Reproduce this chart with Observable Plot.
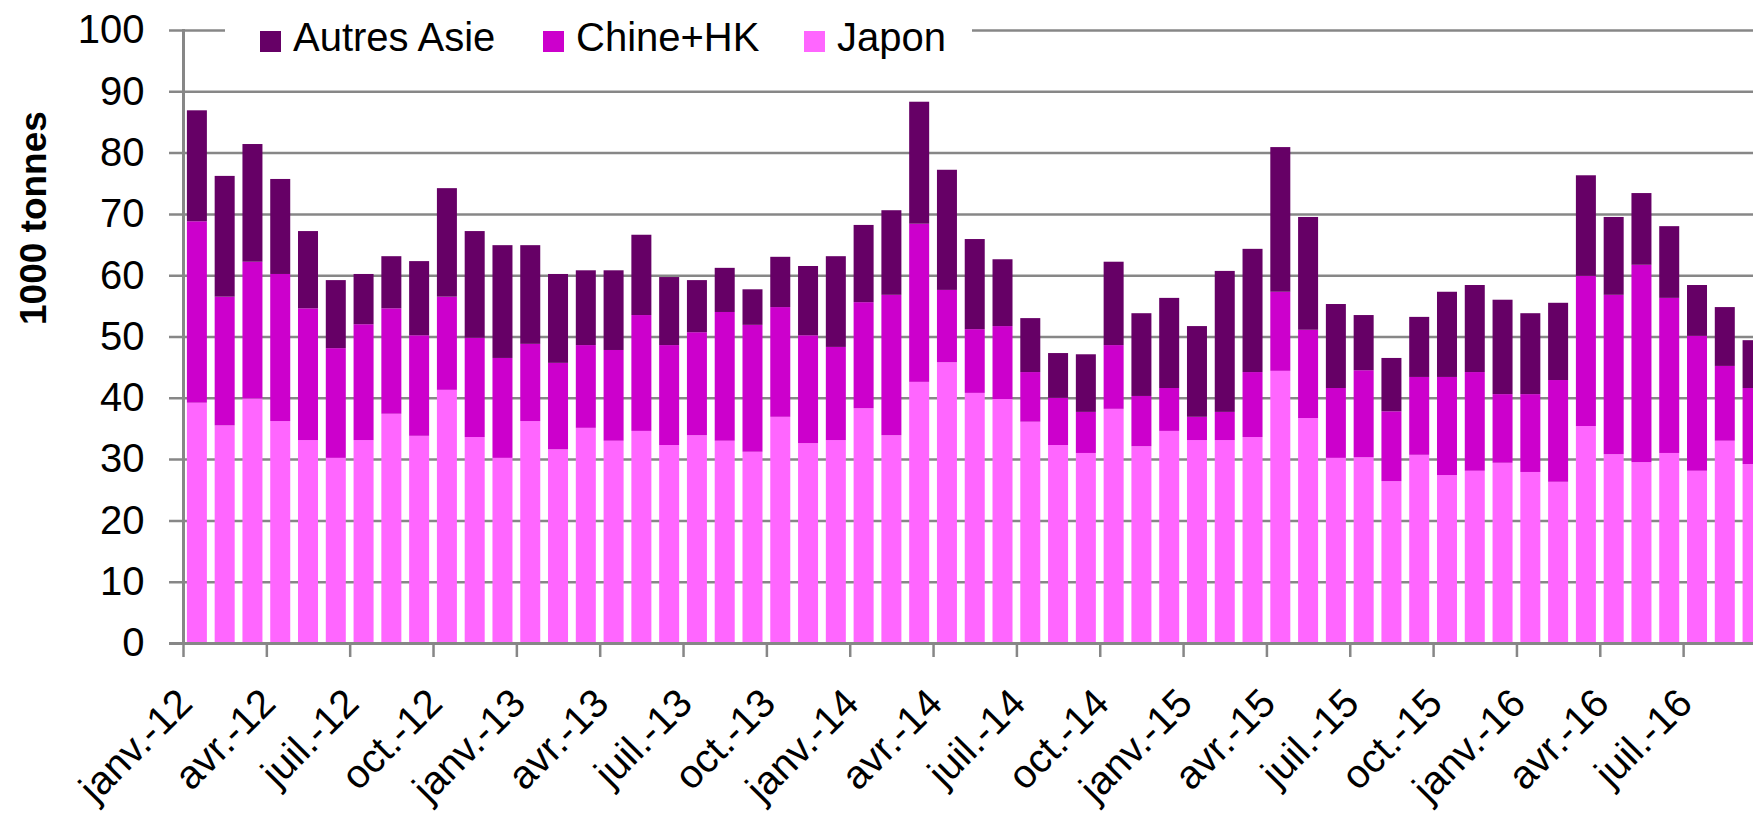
<!DOCTYPE html>
<html>
<head>
<meta charset="utf-8">
<script src="https://cdn.jsdelivr.net/npm/d3@7"></script>
<script src="https://cdn.jsdelivr.net/npm/@observablehq/plot@0.6"></script>
<style>
  html, body { margin: 0; padding: 0; background: white; overflow: hidden; }
  #wrap { position: relative; width: 1753px; height: 816px; font-family: Arial, "Liberation Sans", sans-serif; }
  #legend { position: absolute; left: 225px; top: 6px; width: 747px; height: 62px; background: white; }
  .item { position: absolute; top: 0; height: 62px; font-size: 40px; color: #000; white-space: nowrap; }
  .sw { position: absolute; top: 25px; width: 21px; height: 21px; }
  .lab { position: absolute; left: 33px; top: 8px; line-height: 46px; }
</style>
</head>
<body>
<div id="wrap"></div>
<script>
// Categories
const monthNames = ["janv.", "févr.", "mars", "avr.", "mai", "juin", "juil.", "août", "sept.", "oct.", "nov.", "déc."];
const years = ["12", "13", "14", "15", "16"];
const nMonths = 57; // janv.-12 ... sept.-16
const months = [];
for (const y of years) for (const m of monthNames) months.push(m + "-" + y);
months.length = nMonths;

// Series values (1000 tonnes)
const japon = [39.2, 35.5, 39.9, 36.2, 33.1, 30.2, 33.1, 37.4, 33.8, 41.3, 33.6, 30.2,
  36.2, 31.6, 35.1, 33.0, 34.6, 32.3, 33.9, 33.0, 31.2, 36.9, 32.6, 33.1,
  38.3, 33.9, 42.6, 45.8, 40.8, 39.8, 36.1, 32.3, 31.0, 38.2, 32.1, 34.6,
  33.1, 33.1, 33.6, 44.4, 36.7, 30.2, 30.3, 26.4, 30.7, 27.4, 28.1, 29.4,
  27.9, 26.3, 35.4, 30.8, 29.5, 31.0, 28.1, 33.0, 29.2];
const chineHK = [29.6, 21.0, 22.3, 24.0, 21.5, 17.9, 18.9, 17.2, 16.4, 15.2, 16.2, 16.3,
  12.6, 14.1, 13.5, 14.8, 18.9, 16.3, 16.8, 21.0, 20.7, 17.9, 17.6, 15.2,
  17.3, 22.9, 25.8, 11.8, 10.4, 11.9, 8.1, 7.7, 6.7, 10.4, 8.2, 7.0,
  3.8, 4.6, 10.6, 12.9, 14.4, 11.4, 14.2, 11.4, 12.7, 16.0, 16.1, 11.2,
  12.7, 16.6, 24.5, 26.0, 32.2, 25.3, 22.0, 12.2, 12.4];
const autresAsie = [18.1, 19.7, 19.2, 15.5, 12.6, 11.1, 8.2, 8.5, 12.1, 17.7, 17.4, 18.4,
  16.1, 14.5, 12.2, 13.0, 13.1, 11.1, 8.5, 7.2, 5.8, 8.2, 11.3, 14.8,
  12.6, 13.8, 19.9, 19.6, 14.7, 10.9, 8.8, 7.3, 9.4, 13.6, 13.5, 14.7,
  14.8, 23.0, 20.1, 23.6, 18.4, 13.7, 9.0, 8.7, 9.8, 13.9, 14.2, 15.4,
  13.2, 12.6, 16.4, 12.7, 11.7, 11.7, 8.3, 9.6, 7.8];

const seriesNames = ["Autres Asie", "Chine+HK", "Japon"];
const seriesColors = ["#660066", "#CC00CC", "#FF66FF"];
const yTicks = [0, 10, 20, 30, 40, 50, 60, 70, 80, 90, 100];
const labelMonths = months.filter((d, i) => i % 3 === 0);

// tidy table, Japon at the bottom
const table = [];
months.forEach((m, i) => {
  table.push({month: m, series: "Japon", value: japon[i]});
  table.push({month: m, series: "Chine+HK", value: chineHK[i]});
  table.push({month: m, series: "Autres Asie", value: autresAsie[i]});
});

const gray = "#878787";
const x0 = 183, step = 27.78;
const chart = Plot.plot({
  width: 1753,
  height: 816,
  marginLeft: x0,
  marginRight: 0,
  marginTop: 30,
  marginBottom: 173,
  x: {type: "band", domain: months, range: [x0, x0 + nMonths * step], paddingInner: 0.28, paddingOuter: 0.14, axis: null, label: null},
  y: {domain: [0, 100], axis: null, label: null},
  color: {domain: seriesNames, range: seriesColors},
  style: {fontFamily: "Arial, 'Liberation Sans', sans-serif", background: "white", overflow: "hidden", color: "black"},
  marks: [
    Plot.ruleY(yTicks.slice(1), {stroke: gray, strokeWidth: 2.5, insetLeft: -14}),
    Plot.barY(table, {x: "month", y: "value", fill: "series"}),
    Plot.ruleY([0], {stroke: gray, strokeWidth: 3, insetLeft: -14}),
    Plot.frame({anchor: "left", stroke: gray, strokeWidth: 3}),
    Plot.axisY({ticks: yTicks, tickSize: 0, tickPadding: 39, fontSize: 40, fill: "black", label: null}),
    Plot.axisX({ticks: labelMonths, tickSize: 14, tickFormat: () => "", dx: -step / 2, stroke: gray, strokeWidth: 2.5, label: null}),
    Plot.text(labelMonths, {x: d => d, frameAnchor: "bottom", dy: 62, dx: -3, rotate: -45, textAnchor: "end", fontSize: 40, fill: "black"}),
    Plot.text(["1000 tonnes"], {frameAnchor: "left", dx: -149, dy: -12, rotate: -90, fontSize: 37, fontWeight: "bold", fill: "black"})
  ]
});
const wrap = document.getElementById("wrap");
wrap.appendChild(chart);

// Legend overlay
const legend = document.createElement("div");
legend.id = "legend";
const lefts = [35, 318, 579];
seriesNames.forEach((name, i) => {
  const it = document.createElement("div");
  it.className = "item";
  it.style.left = lefts[i] + "px";
  const sw = document.createElement("div");
  sw.className = "sw";
  sw.style.background = seriesColors[i];
  const lab = document.createElement("span");
  lab.className = "lab";
  lab.textContent = name;
  it.appendChild(sw);
  it.appendChild(lab);
  legend.appendChild(it);
});
wrap.appendChild(legend);
</script>
</body>
</html>
